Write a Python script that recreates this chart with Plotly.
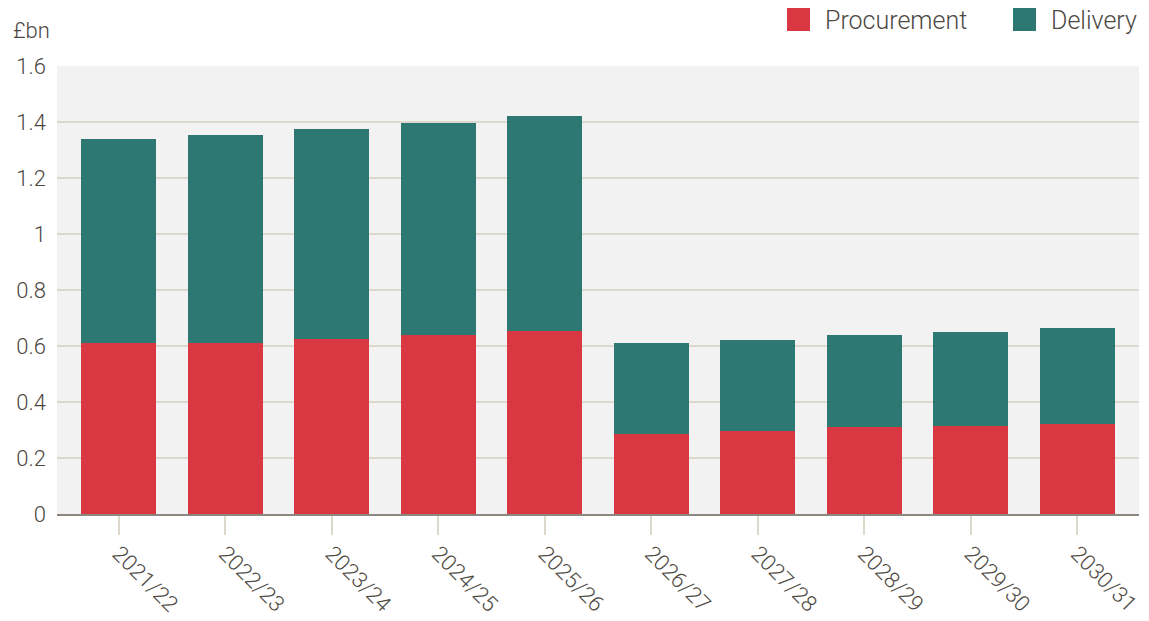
import plotly.graph_objects as go

years = ["2021/22", "2022/23", "2023/24", "2024/25", "2025/26",
         "2026/27", "2027/28", "2028/29", "2029/30", "2030/31"]
procurement = [0.61, 0.61, 0.625, 0.64, 0.655, 0.285, 0.295, 0.31, 0.315, 0.32]
delivery = [0.73, 0.745, 0.75, 0.755, 0.765, 0.325, 0.325, 0.33, 0.335, 0.345]
y_ticks = [0, 0.2, 0.4, 0.6, 0.8, 1.0, 1.2, 1.4, 1.6]
y_tick_text = ["0", "0.2", "0.4", "0.6", "0.8", "1", "1.2", "1.4", "1.6"]

RED = "#d93843"
TEAL = "#2e7873"
TEXT = "#4c4842"
GRID = "#dcd8cc"
FONT = "Roboto"

W, H = 1149, 621
ML, MR, MT, MB = 57, 10, 66, 107
PW, PH = W - ML - MR, H - MT - MB

fig = go.Figure()
fig.add_trace(go.Bar(x=years, y=procurement, name="Procurement",
                     marker=dict(color=RED, line=dict(width=0)), showlegend=False))
fig.add_trace(go.Bar(x=years, y=delivery, name="Delivery",
                     marker=dict(color=TEAL, line=dict(width=0)), showlegend=False))

fig.update_layout(
    barmode="stack",
    bargap=0.298,
    width=W, height=H,
    margin=dict(l=ML, r=MR, t=MT, b=MB, autoexpand=False),
    paper_bgcolor="white",
    plot_bgcolor="#f2f2f2",
    font=dict(family=FONT, size=22, color=TEXT),
    xaxis=dict(
        type="category",
        range=[-0.58, 9.58],
        automargin=False,
        tickangle=45,
        ticks="outside", ticklen=19, tickwidth=2, tickcolor=GRID,
        showline=True, linecolor="#8e8780", linewidth=2,
        showgrid=False,
        ticklabelstandoff=-3,
        tickfont=dict(family=FONT, size=22, color=TEXT, weight=300),
    ),
    yaxis=dict(
        range=[0, 1.6],
        automargin=False,
        tickvals=y_ticks, ticktext=y_tick_text,
        showgrid=True, gridcolor=GRID, gridwidth=2,
        zeroline=False, showline=False,
        ticks="", ticklabelstandoff=10,
        tickfont=dict(family=FONT, size=22, color=TEXT, weight=300),
    ),
)

# Unit label above the y axis
fig.add_annotation(text="£bn", xref="paper", yref="paper",
                   x=(11 - ML) / PW, y=1 + (MT - 30) / PH,
                   xanchor="left", yanchor="middle", showarrow=False,
                   font=dict(family=FONT, size=22, color=TEXT, weight=300))

# Legend drawn as swatches and labels along the top right
legend_items = [("Procurement", RED, 787, 823), ("Delivery", TEAL, 1013, 1049)]
for label, color, sx, tx in legend_items:
    fig.add_shape(type="rect", xref="paper", yref="paper",
                  x0=(sx - ML) / PW, x1=(sx + 23 - ML) / PW,
                  y0=1 + (MT - 31) / PH, y1=1 + (MT - 8) / PH,
                  fillcolor=color, line=dict(width=0))
    fig.add_annotation(text=label, xref="paper", yref="paper",
                       x=(tx - ML) / PW, y=1 + (MT - 21) / PH,
                       xanchor="left", yanchor="middle", showarrow=False,
                       font=dict(family=FONT, size=25, color=TEXT, weight=300))

fig.write_html("out.html")
